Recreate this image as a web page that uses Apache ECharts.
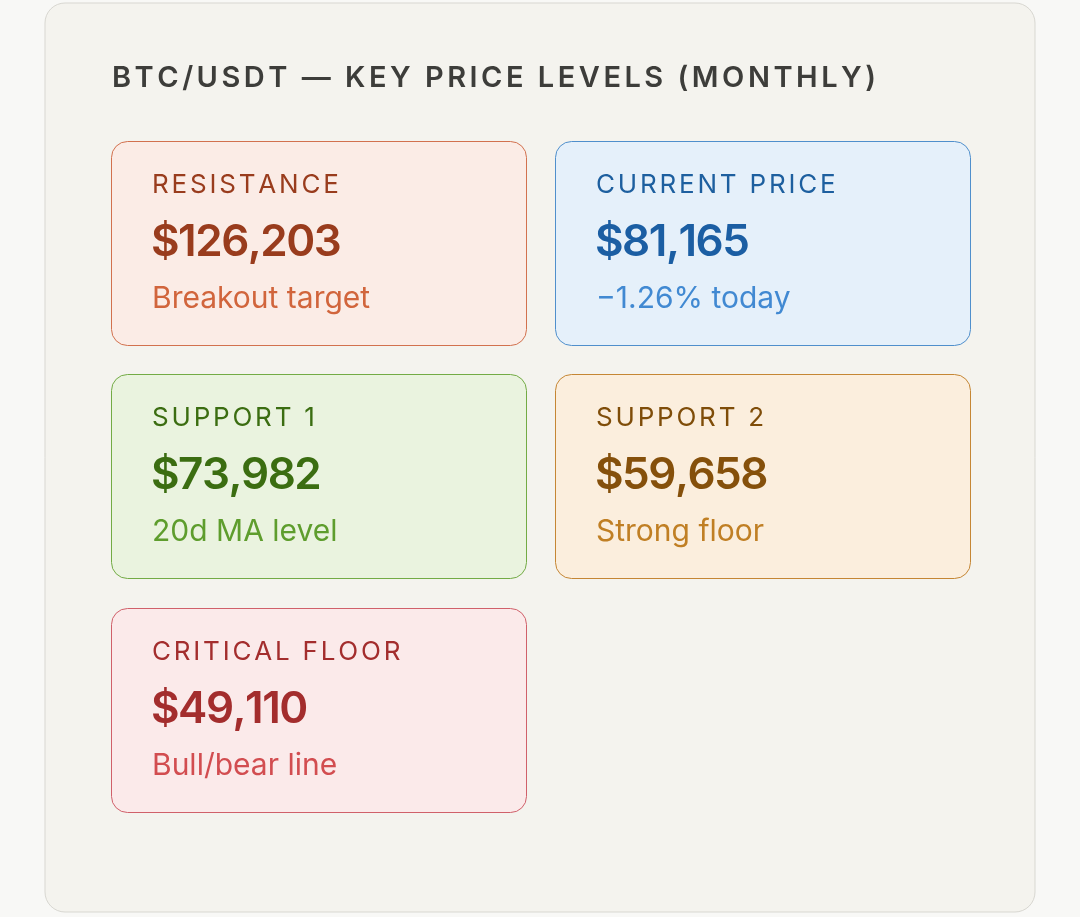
<!DOCTYPE html>
<html>
<head>
<meta charset="utf-8">
<title>BTC/USDT key price levels</title>
<script src="https://cdn.jsdelivr.net/npm/echarts@6/dist/echarts.min.js"></script>
<style>
  html, body { margin: 0; padding: 0; background: #f8f8f6; }
  #main { width: 1080px; height: 917px; }
</style>
</head>
<body>
<div id="main"></div>
<script>
// data
var chartTitle = 'BTC/USDT \u2014 KEY PRICE LEVELS (MONTHLY)';
var levelNames = ['RESISTANCE', 'CURRENT PRICE', 'SUPPORT 1', 'SUPPORT 2', 'CRITICAL FLOOR'];
var levelPrices = [126203, 81165, 73982, 59658, 49110];
var levelNotes = ['Breakout target', '\u22121.26% today', '20d MA level', 'Strong floor', 'Bull/bear line'];

// colours per card: background, border, label, value, note
var palette = [
    { bg: '#fbece6', border: '#d2714e', label: '#993c1d', value: '#993c1d', note: '#d1653c' },
    { bg: '#e5f0fa', border: '#4f8fcc', label: '#1d5f9f', value: '#1b5ea3', note: '#4189d2' },
    { bg: '#eaf3df', border: '#73ab45', label: '#3b6d11', value: '#3b6d11', note: '#5e9d2d' },
    { bg: '#fbeedd', border: '#c58634', label: '#7f4d09', value: '#85500b', note: '#c07f24' },
    { bg: '#fbeaea', border: '#d0606a', label: '#a32d2d', value: '#a32d2d', note: '#d24d50' }
];

var FONT = 'Inter, "Noto Sans", sans-serif';
var measureCtx = document.createElement('canvas').getContext('2d');

function fmtPrice(v) {
    return '$' + v.toLocaleString('en-US');
}

// zrender has no letter-spacing, so spaced text is laid out char by char
function spacedText(str, x, y, size, weight, color, spacing) {
    measureCtx.font = weight + ' ' + size + 'px ' + FONT;
    var children = [];
    var cx = x;
    for (var i = 0; i < str.length; i++) {
        var ch = str.charAt(i);
        children.push({
            type: 'text',
            style: {
                text: ch, x: cx, y: y,
                fill: color,
                fontSize: size, fontWeight: weight, fontFamily: FONT,
                verticalAlign: 'middle', textVerticalAlign: 'middle'
            },
            silent: true
        });
        cx += measureCtx.measureText(ch).width + spacing;
    }
    return { type: 'group', children: children };
}

function plainText(str, x, y, size, weight, color) {
    return {
        type: 'text',
        style: {
            text: str, x: x, y: y,
            fill: color,
            fontSize: size, fontWeight: weight, fontFamily: FONT,
            verticalAlign: 'middle', textVerticalAlign: 'middle'
        },
        silent: true
    };
}

var elements = [];

// outer panel
elements.push({
    type: 'rect',
    shape: { x: 45, y: 3, width: 990, height: 909, r: 20 },
    style: { fill: '#f4f3ee', stroke: '#d8d7d1', lineWidth: 1 },
    silent: true
});

elements.push(spacedText(chartTitle, 112, 78, 29, 600, '#3d3d3a', 3.5));

var cardW = 415, cardH = 204;
var colX = [111, 555];
var rowY = [141, 374, 608];

for (var i = 0; i < levelNames.length; i++) {
    var x = colX[i % 2];
    var y = rowY[Math.floor(i / 2)];
    var c = palette[i];
    elements.push({
        type: 'rect',
        shape: { x: x + 0.5, y: y + 0.5, width: cardW, height: cardH, r: 16 },
        style: { fill: c.bg, stroke: c.border, lineWidth: 1 },
        silent: true
    });
    elements.push(spacedText(levelNames[i], x + 41, y + 44, 26, 400, c.label, 2.8));
    elements.push(spacedText(fmtPrice(levelPrices[i]), x + 40, y + 102, 44, 600, c.value, -1.5));
    elements.push(plainText(levelNotes[i], x + 41, y + 158, 30, 400, c.note));
}

var chart = echarts.init(document.getElementById('main'), null, { renderer: 'canvas' });
chart.setOption({
    backgroundColor: '#f8f8f6',
    animation: false,
    graphic: { elements: elements }
});
</script>
</body>
</html>
